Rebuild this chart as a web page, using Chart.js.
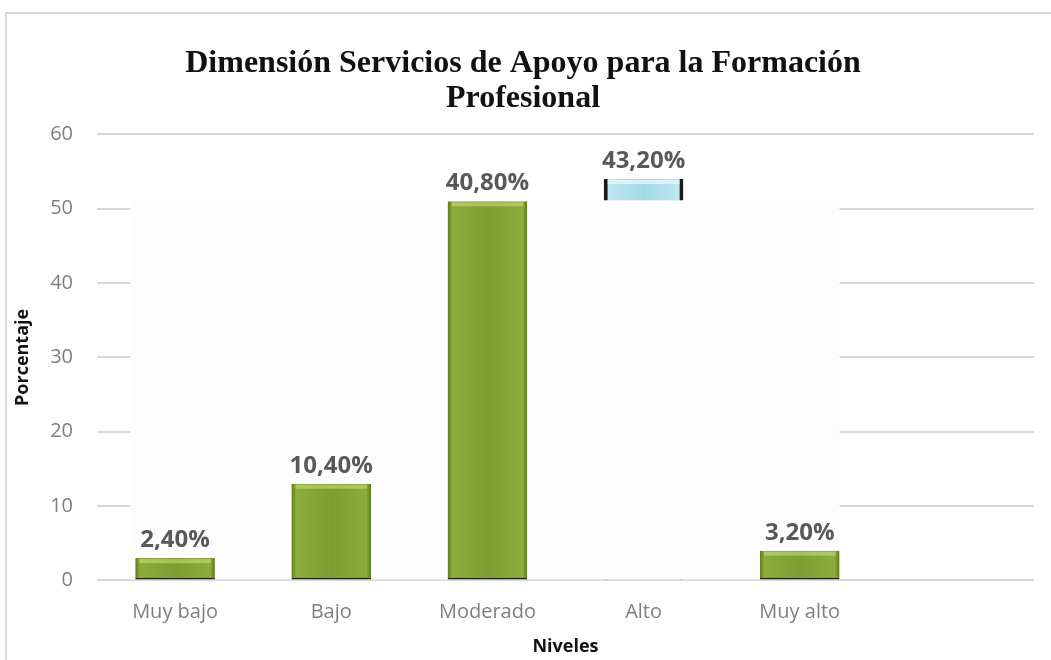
<!DOCTYPE html>
<html>
<head>
<meta charset="utf-8">
<script src="https://cdn.jsdelivr.net/npm/chart.js@4/dist/chart.umd.min.js"></script>
<style>
  html, body { margin: 0; padding: 0; background: #fff; }
  #wrap { position: relative; width: 1051px; height: 660px; overflow: hidden; }
  #frame { position: absolute; left: 5px; top: 12px; width: 1100px; height: 700px; border: 2px solid #d9d9d9; box-sizing: border-box; }
  canvas { position: absolute; left: 0; top: 0; }
</style>
</head>
<body>
<div id="wrap">
  <div id="frame"></div>
  <canvas id="chart" width="1051" height="660"></canvas>
</div>
<script>
const niveles = ["Muy bajo", "Bajo", "Moderado", "Alto", "Muy alto", ""];
// frecuencias (n = 125) y porcentajes mostrados
const frecuencias = [3, 13, 51, 54, 4];
const porcentajes = ["2,40%", "10,40%", "40,80%", "43,20%", "3,20%"];
const yTicks = [0, 10, 20, 30, 40, 50, 60];
const altoIndex = 3;

const CAT_PCT = 0.51;

const verdes = frecuencias.map((v, i) => (i === altoIndex ? null : v));
const azules = frecuencias.map((v, i) => (i === altoIndex ? v : null));

function barGradient(ctx, stops) {
  const chart = ctx.chart;
  const xScale = chart.scales.x;
  if (!chart.chartArea || !xScale) return stops[2];
  const cx = xScale.getPixelForValue(ctx.dataIndex);
  const w = (xScale.width / niveles.length) * CAT_PCT;
  const g = chart.ctx.createLinearGradient(cx - w / 2, 0, cx + w / 2, 0);
  g.addColorStop(0, stops[0]);
  g.addColorStop(0.06, stops[1]);
  g.addColorStop(0.5, stops[2]);
  g.addColorStop(0.94, stops[1]);
  g.addColorStop(1, stops[0]);
  return g;
}

// zona blanca que tapa la rejilla en el centro (como en la imagen original)
const zonaBlanca = {
  id: "zonaBlanca",
  afterDatasetDraw(chart, args) {
    if (args.index !== 1) return;
    const meta = chart.getDatasetMeta(0);
    const bars = meta.data.filter((b, i) => verdes[i] != null);
    const left = bars[0].x - bars[0].width / 2 - 5;
    const last = bars[bars.length - 1];
    const right = last.x + last.width / 2;
    const top = Math.min(...bars.map((b) => b.y)) - 1;
    const bottom = chart.scales.y.getPixelForValue(0) - 1;
    const c = chart.ctx;
    c.save();
    c.fillStyle = "#fdfdfd";
    c.fillRect(left, top, right - left, bottom - top);
    c.restore();
  },
};

// brillo claro en el borde superior de cada barra, y etiquetas de porcentaje
const etiquetas = {
  id: "etiquetas",
  afterDatasetsDraw(chart) {
    const c = chart.ctx;
    c.save();
    [0, 1].forEach((d) => {
      chart.getDatasetMeta(d).data.forEach((bar, i) => {
        const v = chart.data.datasets[d].data[i];
        if (v == null) return;
        c.fillStyle = d === 0 ? "rgba(200,225,120,0.55)" : "rgba(235,250,255,0.7)";
        c.fillRect(bar.x - bar.width / 2 + 4, bar.y + 1, bar.width - 8, 4);
      });
    });
    c.font = "bold 24px 'Open Sans', sans-serif";
    c.fillStyle = "#595959";
    c.textAlign = "center";
    c.textBaseline = "bottom";
    [0, 1].forEach((d) => {
      chart.getDatasetMeta(d).data.forEach((bar, i) => {
        const v = chart.data.datasets[d].data[i];
        if (v == null) return;
        c.fillText(porcentajes[i], bar.x, bar.y - 6);
      });
    });
    c.restore();
  },
};

new Chart(document.getElementById("chart"), {
  type: "bar",
  data: {
    labels: niveles,
    datasets: [
      {
        data: verdes,
        backgroundColor: (ctx) => barGradient(ctx, ["#5c7a1e", "#8aad3c", "#7d9e32"]),
        borderColor: "#1a1a1a",
        borderWidth: { bottom: 2 },
        borderSkipped: false,
        categoryPercentage: CAT_PCT,
        barPercentage: 1,
        grouped: false,
      },
      {
        data: azules,
        backgroundColor: (ctx) => barGradient(ctx, ["#6fb7c9", "#bde6f0", "#a2d9e7"]),
        borderColor: "#1a1a1a",
        borderWidth: { left: 4, right: 4 },
        borderSkipped: "bottom",
        categoryPercentage: CAT_PCT,
        barPercentage: 1,
        grouped: false,
      },
    ],
  },
  options: {
    responsive: false,
    animation: false,
    layout: { padding: { left: 12, right: 17, top: 0, bottom: 2 } },
    plugins: {
      legend: { display: false },
      tooltip: { enabled: false },
      title: {
        display: true,
        text: ["Dimensión Servicios de Apoyo para la Formación", "Profesional"],
        color: "#111",
        font: { family: "'Liberation Serif', 'Times New Roman', serif", size: 32, weight: "bold", lineHeight: 1.1 },
        padding: { top: 46, bottom: 18 },
      },
    },
    scales: {
      x: {
        grid: { display: false },
        border: { display: false },
        ticks: {
          color: "#7f7f7f",
          font: { family: "'Open Sans', sans-serif", size: 20 },
          padding: 12,
          maxRotation: 0,
        },
        title: {
          display: true,
          text: "Niveles",
          color: "#111",
          font: { family: "'Open Sans', sans-serif", size: 18, weight: "bold" },
          padding: { top: 0, bottom: 0 },
        },
      },
      y: {
        min: 0,
        max: 60,
        afterBuildTicks: (scale) => {
          scale.ticks = yTicks.map((v) => ({ value: v }));
        },
        afterFit: (scale) => {
          scale.width = 85;
        },
        grid: { color: "#d9d9d9", lineWidth: 2, drawTicks: false },
        border: { display: false },
        ticks: {
          color: "#7f7f7f",
          font: { family: "'Open Sans', sans-serif", size: 20 },
          padding: 24,
        },
        title: {
          display: true,
          text: "Porcentaje",
          color: "#111",
          font: { family: "'Open Sans', sans-serif", size: 18, weight: "bold" },
          padding: { top: 0, bottom: 0 },
        },
      },
    },
  },
  plugins: [zonaBlanca, etiquetas],
});
</script>
</body>
</html>
